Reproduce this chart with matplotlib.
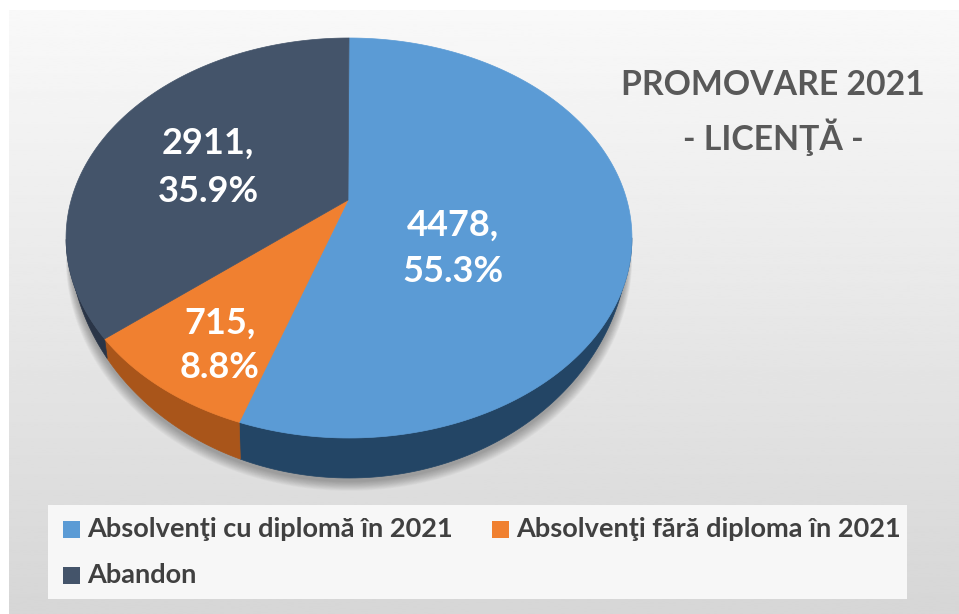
import matplotlib

matplotlib.use("Agg")
import matplotlib.pyplot as plt
import numpy as np
from matplotlib.patches import Polygon, Rectangle

categories = ["Absolvenţi cu diplomă în 2021", "Absolvenţi fără diploma în 2021", "Abandon"]
values = [4478, 715, 2911]
percents = ["55.3%", "8.8%", "35.9%"]

top_colors = ["#5b9bd5", "#f08030", "#44546a"]
side_colors = ["#234565", "#a9551a", "#2a3547"]

plt.rcParams["font.family"] = ["Lato", "DejaVu Sans"]

W, H = 959, 614


def project(theta):
    # cercle unite -> ellipse en perspective (theta depuis le haut, sens horaire)
    u, v = np.sin(theta), np.cos(theta)
    d = 0.19 * v + 1
    return 349 + 277.8 * u / d, (200 - 154.78 * v) / d


def lower_edge(x, y):
    # bord bas de la paroi : ellipse un peu plus haute, donc paroi effilee
    s = (x - 349) / 283
    c = (y - 238) / 200
    return 349 + 280 * s, 237 + 241 * c


fig = plt.figure(figsize=(W / 100, H / 100), dpi=100)
ax = fig.add_axes([0, 0, 1, 1])
ax.set_xlim(0, W)
ax.set_ylim(H, 0)
ax.axis("off")

# fond degrade
grad = np.linspace(0.975, 0.84, 256).reshape(-1, 1)
ax.imshow(grad, extent=[9, W, H, 10], cmap="gray", vmin=0, vmax=1, aspect="auto", zorder=0)

# ombre sous le camembert, moitie basse seulement
t = np.linspace(-np.pi / 2, np.pi / 2, 300)
for g in np.linspace(14, 1, 12):
    sx = 349 + (280 + g * np.cos(t) ** 0.5) * np.sin(t)
    sy = 240 + (241 + g * 0.7) * np.cos(t)
    ax.add_patch(Polygon(np.c_[sx, sy], fc="#303030", ec="none", alpha=0.035, zorder=1))

# tranches, sens horaire depuis le haut
fracs = np.array(values) / sum(values)
edges = np.r_[0, np.cumsum(fracs)] * 2 * np.pi
for i in range(len(values)):
    th = np.linspace(edges[i], edges[i + 1], 200)
    x, y = project(th)
    vis = y > 238
    if vis.any():
        xs, ys = x[vis], y[vis]
        lx, ly = lower_edge(xs, ys)
        wall = np.r_[np.c_[xs, ys], np.c_[lx, ly][::-1]]
        ax.add_patch(Polygon(wall, fc=side_colors[i], ec=side_colors[i], lw=0.5, zorder=2))
    ax.add_patch(Polygon(np.r_[[[348, 200]], np.c_[x, y]], fc=top_colors[i], ec=top_colors[i],
                         lw=0.5, zorder=3))

# etiquettes
label_pos = [(453, 225, 272), (220, 323, 368), (208, 143, 191)]
for (lx, y1, y2), val, pct in zip(label_pos, values, percents):
    ax.text(lx, y1, f"{val},", color="white", fontsize=26, fontweight="bold",
            ha="center", va="center", zorder=4)
    ax.text(lx, y2, pct, color="white", fontsize=26, fontweight="bold",
            ha="center", va="center", zorder=4)

# titre
ax.text(773, 85, "PROMOVARE 2021", color="#595959", fontsize=24.3, fontweight="bold",
        ha="center", va="center", zorder=4)
ax.text(773, 137, "- LICENŢĂ -", color="#595959", fontsize=24.3, fontweight="bold",
        ha="center", va="center", zorder=4)

# legende
ax.add_patch(Rectangle((48, 505), 859, 94, fc="#f7f7f7", ec="none", zorder=2))
legend_pos = [(63, 529), (492, 529), (63, 575)]
for (lx, ly), name, col in zip(legend_pos, categories, top_colors):
    ax.add_patch(Rectangle((lx, ly - 8), 17, 17, fc=col, ec="none", zorder=3))
    ax.text(lx + 24, ly, name, color="#404040", fontsize=19.5, fontweight="bold",
            ha="left", va="center", zorder=4)

fig.savefig("out.png", dpi=100)
